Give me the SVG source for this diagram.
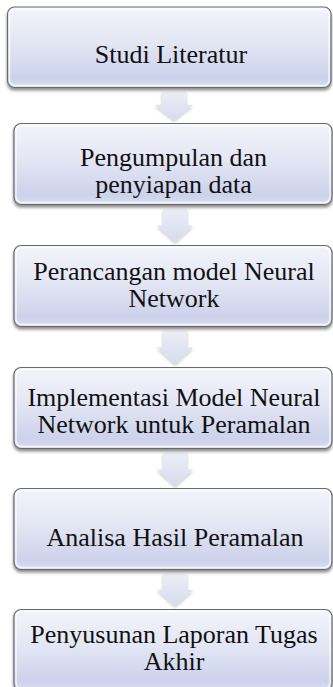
<svg xmlns="http://www.w3.org/2000/svg" width="333" height="687" viewBox="0 0 333 687">
  <defs>
    <linearGradient id="boxFill" x1="0" y1="0" x2="0" y2="1">
      <stop offset="0" stop-color="#f3f4fb"/>
      <stop offset="0.45" stop-color="#e3e6f4"/>
      <stop offset="0.88" stop-color="#ccd2eb"/>
      <stop offset="1" stop-color="#d9ddef"/>
    </linearGradient>
    <linearGradient id="arrowFill" x1="0" y1="0" x2="0" y2="1">
      <stop offset="0" stop-color="#eceef6"/>
      <stop offset="1" stop-color="#d6daec"/>
    </linearGradient>
    <filter id="boxShadow" x="-5%" y="-10%" width="110%" height="125%">
      <feDropShadow dx="0" dy="2.5" stdDeviation="1.6" flood-color="#000" flood-opacity="0.45"/>
    </filter>
    <filter id="arrowShadow" x="-30%" y="-20%" width="160%" height="150%">
      <feDropShadow dx="0" dy="1.5" stdDeviation="1.5" flood-color="#000" flood-opacity="0.25"/>
    </filter>
    <style>
      .box { fill: url(#boxFill); stroke: #6a6a6e; stroke-width: 1.2; filter: url(#boxShadow); }
      .gloss { fill: none; stroke: #ffffff; stroke-opacity: 0.75; stroke-width: 1.5; }
      .arrow { fill: url(#arrowFill); filter: url(#arrowShadow); }
      .label { font-family: "Liberation Serif", "Times New Roman", serif; font-size: 26px; fill: #111111; text-anchor: middle; }
    </style>
  </defs>

  <rect width="333" height="687" fill="#ffffff"/>

  <!-- downward block arrows between the steps -->
  <g id="connectors">
    <path class="arrow" d="M162,92 H186 V105 H193 L174,120 L155,105 H162 Z"/>
    <path class="arrow" d="M163,209 H187 V225.5 H193 L175,242 L157,225.5 H163 Z"/>
    <path class="arrow" d="M163,331 H187 V347.5 H193 L175,364 L157,347.5 H163 Z"/>
    <path class="arrow" d="M163,453 H187 V469.5 H193 L175,486 L157,469.5 H163 Z"/>
    <path class="arrow" d="M163,574 H187 V590 H193 L175,606 L157,590 H163 Z"/>
  </g>

  <g id="step1">
    <rect class="box" x="7.5" y="7" width="323.5" height="80.5" rx="7"/>
    <rect class="gloss" x="9.5" y="9" width="319.5" height="76.5" rx="5.5"/>
    <text class="label" x="171" y="63">Studi Literatur</text>
  </g>

  <g id="step2">
    <rect class="box" x="14" y="123.5" width="318" height="81" rx="7"/>
    <rect class="gloss" x="16" y="125.5" width="314" height="77" rx="5.5"/>
    <text class="label" x="173.5" y="166">Pengumpulan dan</text>
    <text class="label" x="173.5" y="192.5">penyiapan data</text>
  </g>

  <g id="step3">
    <rect class="box" x="14" y="245.5" width="318" height="81" rx="7"/>
    <rect class="gloss" x="16" y="247.5" width="314" height="77" rx="5.5"/>
    <text class="label" x="174" y="280">Perancangan model Neural</text>
    <text class="label" x="174" y="306.5">Network</text>
  </g>

  <g id="step4">
    <rect class="box" x="14" y="367.5" width="318" height="81" rx="7"/>
    <rect class="gloss" x="16" y="369.5" width="314" height="77" rx="5.5"/>
    <text class="label" x="174" y="406">Implementasi Model Neural</text>
    <text class="label" x="174" y="432.5">Network untuk Peramalan</text>
  </g>

  <g id="step5">
    <rect class="box" x="14" y="488.5" width="318" height="81" rx="7"/>
    <rect class="gloss" x="16" y="490.5" width="314" height="77" rx="5.5"/>
    <text class="label" x="175" y="546">Analisa Hasil Peramalan</text>
  </g>

  <g id="step6">
    <rect class="box" x="14" y="609.5" width="318" height="81" rx="7"/>
    <rect class="gloss" x="16" y="611.5" width="314" height="77" rx="5.5"/>
    <text class="label" x="174" y="643">Penyusunan Laporan Tugas</text>
    <text class="label" x="174" y="669.5">Akhir</text>
  </g>
</svg>
